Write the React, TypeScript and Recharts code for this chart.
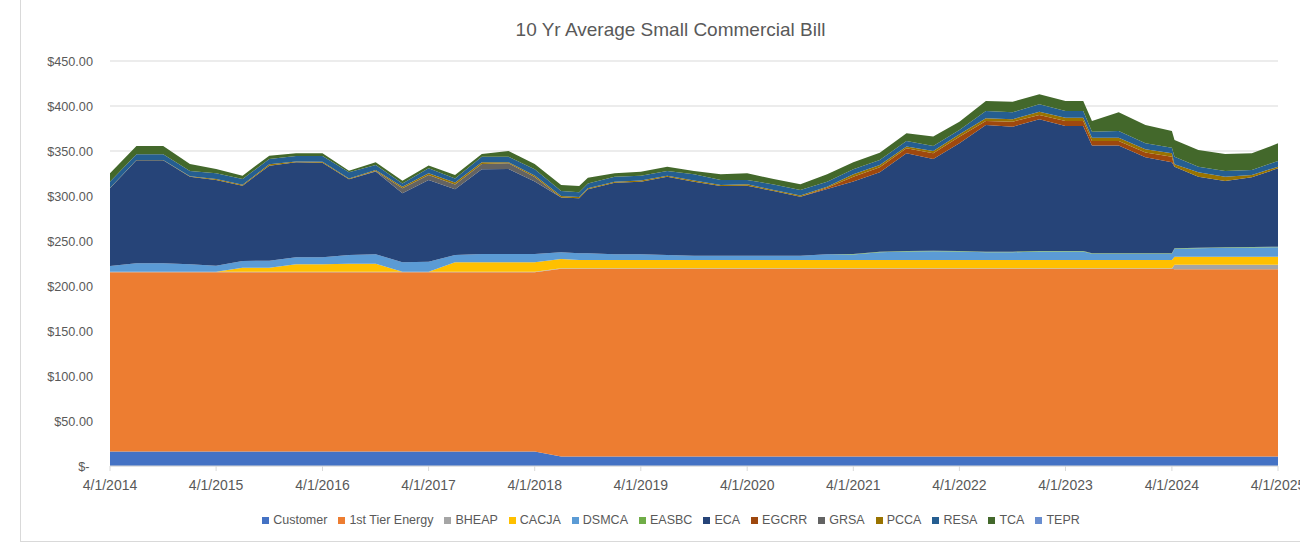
import React from "react"
import {
  AreaChart,
  Area,
  XAxis,
  YAxis,
  CartesianGrid,
} from "recharts"

// billing dates (mostly quarterly, plus a few mid-quarter rate changes)
const dates = [
  "2014-04-01", "2014-07-01", "2014-10-01", "2015-01-01", "2015-04-01", "2015-07-01",
  "2015-10-01", "2016-01-01", "2016-04-01", "2016-07-01", "2016-10-01", "2017-01-01",
  "2017-04-01", "2017-07-01", "2017-10-01", "2018-01-01", "2018-04-01", "2018-07-01",
  "2018-09-01", "2018-10-01", "2019-01-01", "2019-04-01", "2019-07-01", "2019-10-01",
  "2020-01-01", "2020-04-01", "2020-07-01", "2020-10-01", "2021-01-01", "2021-04-01",
  "2021-07-01", "2021-10-01", "2022-01-01", "2022-04-01", "2022-07-01", "2022-10-01",
  "2023-01-01", "2023-04-01", "2023-06-01", "2023-07-01", "2023-10-01", "2024-01-01",
  "2024-04-01", "2024-04-10", "2024-07-01", "2024-10-01", "2025-01-01", "2025-04-01",
]

const customer = [
  16, 16, 16, 16, 16, 16, 16, 16, 16, 16, 16, 16, 16, 16, 16, 16, 16, 10.5,
  10.5, 10.5, 10.5, 10.5, 10.5, 10.5, 10.5, 10.5, 10.5, 10.5, 10.5, 10.5, 10.5, 10.5,
  10.5, 10.5, 10.5, 10.5, 10.5, 10.5, 10.5, 10.5, 10.5, 10.5, 10.5, 10.5, 10.5, 10.5, 10.5, 10.5,
]
const firstTier = [
  199.2, 199.2, 199.2, 199.2, 199.2, 199.2, 199.2, 199.2, 199.2, 199.2, 199.2, 199.2,
  199.2, 199.2, 199.2, 199.2, 199.2, 208.6, 208.6, 208.6, 208.6, 208.6, 208.6, 208.6,
  208.6, 208.6, 208.6, 208.6, 208.6, 208.6, 208.6, 208.6, 208.6, 208.6, 208.6, 208.6,
  208.6, 208.6, 208.6, 208.6, 208.6, 208.6, 208.6, 208, 208, 208, 208, 208,
]
const bheap = [
  0.5, 0.5, 0.5, 0.5, 0.5, 0.5, 0.5, 0.5, 0.5, 0.5, 0.5, 0.5, 0.5, 0.5, 0.5, 0.5,
  0.5, 0.5, 0.5, 0.5, 0.5, 0.5, 0.5, 0.5, 0.5, 0.5, 0.5, 0.5, 0.5, 0.5, 0.5, 0.5,
  0.5, 0.5, 0.5, 0.5, 0.5, 0.5, 0.5, 0.5, 0.5, 0.5, 0.5, 5, 5, 5, 5, 5,
]
const cacja = [
  0, 0, 0, 0, 0, 4.7, 4.7, 8.4, 8.4, 9.1, 9.1, 0, 0, 10.6, 10.6, 10.6, 10.6, 10.4,
  9.3, 9.3, 9.3, 9.3, 9.3, 9.3, 9.3, 9.3, 9.3, 9.3, 9.3, 9.3, 9.3, 9.3, 9.3, 9.3,
  9.3, 9.3, 9.3, 9.3, 9.3, 9.3, 9.3, 9.3, 9.3, 9.1, 9.1, 9.1, 9.1, 9.1,
]
const dsmca = [
  6.5, 9.5, 9.5, 8.4, 6.9, 7.4, 7.7, 7.8, 7.8, 9.6, 10.4, 10.6, 11.3, 8.1, 9.3, 9.3,
  9.3, 7.4, 7.4, 7.4, 6.3, 6.3, 5.5, 4.8, 4.8, 4.8, 4.8, 4.8, 6.3, 6.1, 8.6, 9.4,
  9.8, 9.4, 8.6, 8.6, 9.4, 9.4, 9.4, 6.8, 6.8, 6.8, 6.8, 8.7, 9.4, 9.8, 10.1, 10.5,
]
const easbc = [
  0, 0, 0, 0, 0, 0, 0, 0, 0, 0, 0, 0, 0, 0, 0, 0, 0, 0, 0, 0, 0, 0, 0, 0, 0, 0, 0, 0, 0,
  0.6, 0.6, 0.6, 0.6, 0.6, 0.6, 0.6, 0.6, 0.6, 0.6, 0.6, 0.6, 0.6, 0.6, 0.6, 0.6, 0.6, 0.6, 0.6,
]
const eca = [
  86.3, 114.4, 114.4, 97.4, 95.2, 83.7, 105.6, 105.5, 105.1, 84.1, 92.1, 76.7, 90.8, 73,
  94, 94.4, 80.4, 60.8, 61.1, 71.1, 79.6, 80.7, 87.1, 82.2, 77.4, 77.8, 71.8, 65.6, 72.6,
  80.4, 88.2, 108.5, 101.8, 119.6, 140.8, 138.9, 146.3, 138.9, 138.9, 119.7, 119.7, 106.7,
  101.1, 90.7, 78.9, 73.7, 77.4, 87,
]
const egcrr = [
  0, 0, 0, 0, 0, 0, 0, 0, 0, 0, 0, 0, 0, 0, 0, 0, 0, 0, 0, 0, 0, 0, 0, 0, 0, 0, 0, 0,
  1.5, 5.5, 5.6, 5.6, 6.3, 7.4, 4.4, 5.6, 4.8, 5.5, 5.5, 5.1, 5.1, 5.2, 6.3, 0, 0, 0, 0, 0,
]
const grsa = [
  0, 0, 0, 0, 0, 0, 0, 0, 0, 0, 0.5, 5.5, 5.5, 5.5, 5.9, 6.3, 5, 0, 0, 0, 0, 0, 0, 0,
  0, 0, 0, 0, 0, 0, 0, 0, 0, 0, 0, 0, 0, 0, 0, 0, 0, 0, 0, 0, 0, 0, 0, 0,
]
const pcca = [
  0.5, 0.5, 0.5, 0.5, 1.2, 1, 1.5, 1, 1, 1, 1, 1.9, 1.9, 2.2, 1.9, 1.1, 1.9, 1.9, 1.5,
  1.1, 1.1, 1.2, 1.1, 1.2, 1.2, 1.5, 1.2, 1.2, 1.1, 2.6, 2.6, 1.9, 2.6, 2.6, 3, 2.6,
  3.7, 3.7, 3.7, 3.7, 3.7, 3.7, 3.7, 2.6, 4.8, 4.8, 2.6, 1.9,
]
const resa = [
  6.9, 6.2, 6.2, 5.8, 6.3, 6.4, 5.9, 6, 6.4, 6.8, 5.7, 3.6, 5.6, 4.4, 6.3, 6.3, 6.7, 5.4,
  5.2, 5.5, 5.6, 5.5, 5.2, 7, 5.5, 4.8, 6.2, 6.2, 5.5, 5.5, 5.5, 6.2, 5.6, 4.8, 8.1, 7.8,
  8.2, 7.4, 7.4, 6.7, 7.4, 6.6, 6.3, 8.5, 6.3, 6.3, 5.7, 6.4,
]
const tca = [
  9.3, 9.3, 9.3, 7.8, 4.8, 3.7, 3.7, 3, 3, 1.8, 3, 3, 3, 3.7, 3, 6.3, 6, 6.7, 7, 6.4,
  3.7, 4.4, 4.8, 3.7, 6.3, 7.4, 6, 6.3, 8.2, 7.8, 8.1, 8.5, 10.4, 9.3, 11.2, 11.8, 11.1,
  11.2, 11.2, 11.8, 20.8, 20.4, 18.5, 18.5, 18.5, 18.9, 18.4, 19.5,
]
const tepr = dates.map(() => 0)

const tickYears = [2014, 2015, 2016, 2017, 2018, 2019, 2020, 2021, 2022, 2023, 2024, 2025]
const yTicks = [0, 50, 100, 150, 200, 250, 300, 350, 400, 450]

const series = [
  { key: "Customer", values: customer, color: "#4472C4" },
  { key: "1st Tier Energy", values: firstTier, color: "#ED7D31" },
  { key: "BHEAP", values: bheap, color: "#A5A5A5" },
  { key: "CACJA", values: cacja, color: "#FFC000" },
  { key: "DSMCA", values: dsmca, color: "#5B9BD5" },
  { key: "EASBC", values: easbc, color: "#70AD47" },
  { key: "ECA", values: eca, color: "#264478" },
  { key: "EGCRR", values: egcrr, color: "#9E480E" },
  { key: "GRSA", values: grsa, color: "#636363" },
  { key: "PCCA", values: pcca, color: "#997300" },
  { key: "RESA", values: resa, color: "#255E91" },
  { key: "TCA", values: tca, color: "#43682B" },
  { key: "TEPR", values: tepr, color: "#698ED0" },
]

const toTs = (s: string) => {
  const [y, m, d] = s.split("-").map(Number)
  return Date.UTC(y, m - 1, d)
}

const data = dates.map((d, i) => {
  const row: Record<string, number> = { t: toTs(d) }
  series.forEach((s) => {
    row[s.key] = s.values[i]
  })
  return row
})

const xTicks = tickYears.map((y) => Date.UTC(y, 3, 1))
const font = "'Liberation Sans', Arial, sans-serif"
const textColor = "#595959"

const fmtDate = (v: number) => {
  const d = new Date(v)
  return `${d.getUTCMonth() + 1}/${d.getUTCDate()}/${d.getUTCFullYear()}`
}
const fmtMoney = (v: number) => (v === 0 ? "$-\u00a0" : `$${v.toFixed(2)}`)

export default function App() {
  return (
    <div
      style={{
        position: "absolute",
        left: 0,
        top: 0,
        width: 1300,
        height: 544,
        overflow: "hidden",
        background: "#fff",
        fontFamily: font,
      }}
    >
      {/* chart frame */}
      <div
        style={{
          position: "absolute",
          left: 20,
          top: -2,
          width: 1300,
          height: 544,
          borderLeft: "1px solid #d9d9d9",
          borderBottom: "1px solid #d9d9d9",
          boxSizing: "border-box",
        }}
      />
      <div
        style={{
          position: "absolute",
          left: 0,
          top: 19,
          width: 1341,
          textAlign: "center",
          fontSize: 19,
          lineHeight: "22px",
          color: textColor,
        }}
      >
        10 Yr Average Small Commercial Bill
      </div>

      <div style={{ position: "absolute", left: 0, top: 0 }}>
        <AreaChart
          width={1300}
          height={544}
          data={data}
          margin={{ top: 61, right: 22, bottom: 48, left: 20 }}
        >
          <CartesianGrid vertical={false} stroke="#d9d9d9" />
          <XAxis
            dataKey="t"
            type="number"
            domain={[xTicks[0], xTicks[xTicks.length - 1]]}
            ticks={xTicks}
            interval={0}
            tickFormatter={fmtDate}
            height={30}
            tickSize={5}
            tickMargin={9}
            stroke="#d9d9d9"
            tick={{ fill: textColor, fontSize: 14, fontFamily: font }}
          />
          <YAxis
            domain={[0, 450]}
            ticks={yTicks}
            width={90}
            axisLine={false}
            tickLine={false}
            tickSize={0}
            tickMargin={17}
            tickFormatter={fmtMoney}
            tick={{ fill: textColor, fontSize: 12.7, fontFamily: font }}
          />
          {series.map((s) => (
            <Area
              key={s.key}
              dataKey={s.key}
              stackId="bill"
              type="linear"
              fill={s.color}
              fillOpacity={1}
              stroke="none"
              isAnimationActive={false}
            />
          ))}
        </AreaChart>
      </div>

      {/* legend */}
      <div
        style={{
          position: "absolute",
          left: 0,
          top: 512,
          width: 1342,
          display: "flex",
          justifyContent: "center",
          gap: 11,
          fontSize: 12.5,
          lineHeight: "16px",
          color: textColor,
        }}
      >
        {series.map((s) => (
          <div key={s.key} style={{ display: "flex", alignItems: "center" }}>
            <span
              style={{
                display: "inline-block",
                width: 7,
                height: 7,
                background: s.color,
                marginRight: 4,
              }}
            />
            <span>{s.key}</span>
          </div>
        ))}
      </div>
    </div>
  )
}
